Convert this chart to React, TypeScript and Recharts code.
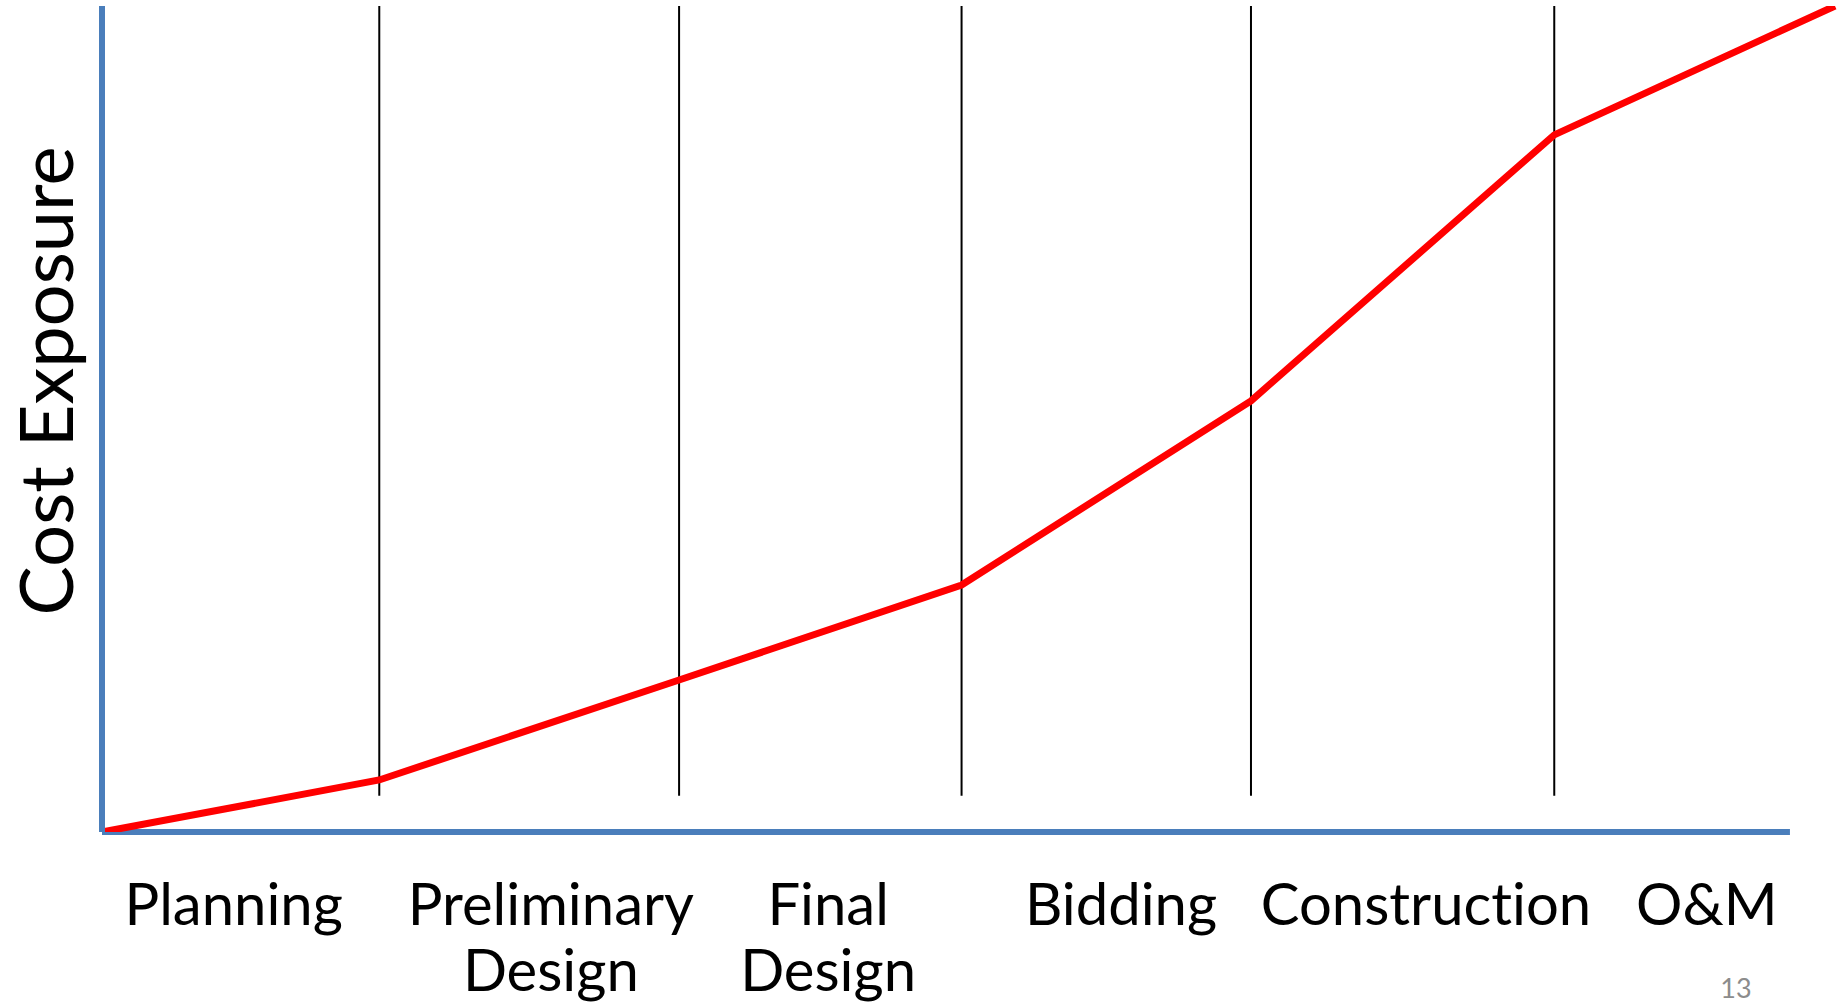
import React from "react";
import {
  LineChart,
  Line,
  XAxis,
  YAxis,
  ReferenceLine,
} from "recharts";

// phase timeline, 0..100 along the x axis
const phaseBounds = [16.0, 33.3, 49.6, 66.3, 83.8];
const curveX = [0, 16.0, 33.3, 49.6, 66.3, 83.8, 100];
const costExposure = [0, 6.3, 18.4, 29.9, 52.2, 84.4, 100];

const phaseLabels = [
  ["Planning"],
  ["Preliminary", "Design"],
  ["Final", "Design"],
  ["Bidding"],
  ["Construction"],
  ["O&M"],
];
const labelX = [7.6, 25.9, 41.9, 58.8, 76.4, 92.6];

const axisEnd = 97.4;
const dividerBottom = 4.4;
const pageNumber = "13";

const BLUE = "#4a7ebb";
const FONT = "Lato, 'Open Sans', sans-serif";
const noLig = { fontVariantLigatures: "none", fontFeatureSettings: "'liga' 0" } as any;

const data = curveX.map((x, i) => ({ x, cost: costExposure[i] }));

function PhaseTick(props: any) {
  const { x, y, index } = props;
  const lines = phaseLabels[index] || [];
  return (
    <g>
      {lines.map((line, i) => (
        <text
          key={i}
          x={x}
          y={y + 93 + i * 66}
          textAnchor="middle"
          fontFamily={FONT}
          fontSize={58}
          fill="#000"
          style={noLig}
        >
          {line}
        </text>
      ))}
    </g>
  );
}

export default function App() {
  return (
    <div
      style={{
        position: "absolute",
        left: 0,
        top: 0,
        width: 1844,
        height: 1003,
        background: "#fff",
      }}
    >
      <LineChart
        width={1844}
        height={1003}
        data={data}
        margin={{ top: 6, right: 9, bottom: 0, left: 0 }}
      >
        <XAxis
          dataKey="x"
          type="number"
          domain={[0, 100]}
          ticks={labelX}
          interval={0}
          axisLine={false}
          tickLine={false}
          tickSize={0}
          tickMargin={0}
          height={171}
          tick={<PhaseTick />}
          label={{
            content: (p: any) => {
              const vb = p.viewBox || { x: 102, y: 832 };
              return (
                <text
                  x={1736}
                  y={vb.y + 166}
                  textAnchor="middle"
                  fontFamily={FONT}
                  fontSize={27}
                  fill="#8c8c8c"
                >
                  {pageNumber}
                </text>
              );
            },
          }}
        />
        <YAxis
          type="number"
          domain={[0, 100]}
          allowDataOverflow
          width={102}
          tick={false}
          tickLine={false}
          axisLine={{ stroke: BLUE, strokeWidth: 6 }}
          label={{
            content: (p: any) => {
              const vb = p.viewBox || { x: 0, y: 6, height: 826 };
              const cy = vb.y + vb.height / 2 - 38;
              return (
                <text
                  x={73}
                  y={cy}
                  transform={`rotate(-90, 73, ${cy})`}
                  textAnchor="middle"
                  fontFamily={FONT}
                  fontSize={74}
                  fill="#000"
                >
                  Cost Exposure
                </text>
              );
            },
          }}
        />
        {phaseBounds.map((b) => (
          <ReferenceLine
            key={b}
            segment={[
              { x: b, y: dividerBottom },
              { x: b, y: 100 },
            ]}
            stroke="#000"
            strokeWidth={2}
          />
        ))}
        <ReferenceLine
          segment={[
            { x: 0, y: 0 },
            { x: axisEnd, y: 0 },
          ]}
          stroke={BLUE}
          strokeWidth={6}
        />
        <Line
          type="linear"
          dataKey="cost"
          stroke="#ff0000"
          strokeWidth={7}
          dot={false}
          activeDot={false}
          isAnimationActive={false}
        />
      </LineChart>
    </div>
  );
}
